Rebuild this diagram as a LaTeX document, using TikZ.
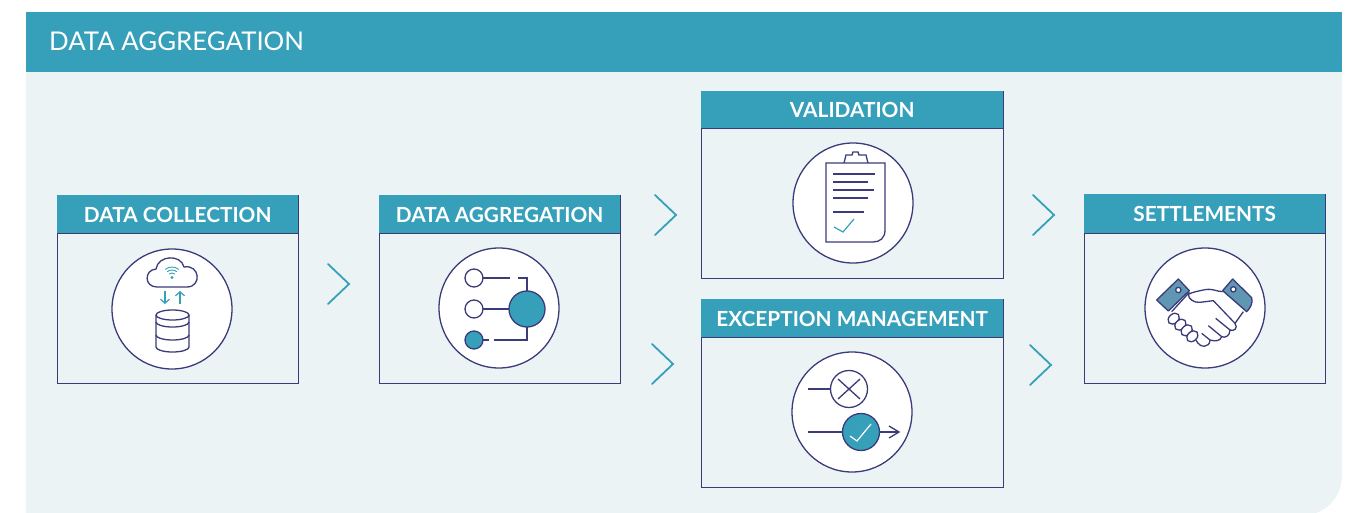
\documentclass[tikz,border=0pt]{standalone}
\usepackage{fontspec}
\setmainfont{Lato}
\usetikzlibrary{arrows.meta}
\definecolor{teal1}{HTML}{36A0BA}
\definecolor{pale1}{HTML}{EBF3F5}
\definecolor{navy1}{HTML}{3B3B7A}
\definecolor{cuff1}{HTML}{5F97B3}
\tikzset{
	boxbody/.style={draw=navy1, line width=1.3pt, anchor=north west, inner sep=0pt},
	boxhead/.style={fill=teal1, text=white, anchor=north west, inner sep=0pt, text height=16.5pt, text depth=0pt, font=\fontsize{20.8}{24}\selectfont\bfseries},
	iconring/.style={draw=navy1, fill=white, circle, line width=1.3pt, minimum size=120pt, inner sep=0pt},
	chevron/.style={draw=teal1, line width=1.8pt, line cap=round, line join=miter},
	navyline/.style={draw=navy1, line width=1.3pt},
	tealline/.style={draw=teal1, line width=1.2pt},
}
\begin{document}
\begin{tikzpicture}[x=1pt, y=-1pt]
	\useasboundingbox (0,0) rectangle (1351,513);
	\fill[pale1] (26,60) -- (1342,60) -- (1342,473) .. controls (1342,495) and (1330,508) .. (1316,513) -- (26,513) -- cycle;
	\fill[teal1] (26,12) rectangle (1342,72);
	\node[anchor=west, text=white, inner sep=0pt, font=\fontsize{25.8}{32}\selectfont] (title) at (49,41.5) {DATA AGGREGATION};

	\foreach \name/\x/\y/\w/\h/\hh/\txt in {A/57/195/241/188/38/DATA COLLECTION, B/379/195/241/188/38/DATA AGGREGATION, C/701/91/302/187/37/VALIDATION, D/701/299/302/188/38/EXCEPTION MANAGEMENT, E/1084/194/241/189/39/SETTLEMENTS} {
		\node[boxbody, minimum width=\w pt, minimum height=\h pt] (body\name) at (\x,\y) {};
		\node[boxhead, minimum width=\w pt, minimum height=\hh pt] (head\name) at (\x,\y) {\txt};
		\draw[navyline] (head\name.south west) -- (head\name.south east);
	}

	\foreach \name/\pos in {A/{(172,309)}, B/{(499,308)}, C/{(853,203)}, D/{(852,412)}, E/{(1205,308)}} \node[iconring] (ring\name) at \pos {};

	\foreach \pos in {(349,284), (676,215), (673,364), (1054,215), (1051,365)} \draw[chevron, shift={\pos}] (-21pt,20pt) -- (0pt,0pt) -- (-21pt,-20pt);

	% cloud and database
	\draw[navyline] (157,287) .. controls (144,287) and (144,270) .. (156,269) .. controls (158,255) and (181,254) .. (184,267) .. controls (200,264) and (202,287) .. (187,287) -- cycle;
	\fill[teal1] (172,277.5) circle (1.7pt);
	\foreach \rad in {4.5, 7.5, 10.5} \draw[tealline, line width=0.9pt] (172,277.5) ++(50:\rad pt) arc[start angle=50, end angle=130, radius=\rad pt];
	\draw[tealline, -{Straight Barb[length=4pt, width=9pt]}] (165,291) -- (165,304);
	\draw[tealline, -{Straight Barb[length=4pt, width=9pt]}] (180,304) -- (180,291);
	\draw[navyline] (156,315) arc[start angle=180, end angle=-180, x radius=16.5pt, y radius=5pt];
	\draw[navyline] (156,315) -- (156,347) arc[start angle=180, end angle=360, x radius=16.5pt, y radius=5pt] -- (189,315);
	\foreach \pos in {322, 335} \draw[navyline] (156,\pos) arc[start angle=180, end angle=360, x radius=16.5pt, y radius=5pt];

	% aggregation tree
	\draw[navyline] (483,278) -- (510,278) (518,278) -- (527,278) -- (527,291);
	\draw[navyline] (483,309) -- (509,309);
	\draw[navyline] (483,340) -- (489,340) (494,340) -- (527,340) -- (527,327);
	\foreach \pos in {278, 309} \draw[navyline, fill=white] (474,\pos) circle (9pt);
	\draw[navyline, fill=teal1] (474,340) circle (9pt);
	\draw[navyline, fill=teal1] (527,309) circle (18pt);

	% clipboard
	\draw[navyline] (826,163) -- (885,163) -- (885,230) .. controls (885,238) and (880,242) .. (873,242) -- (826,242) -- cycle;
	\draw[navyline] (844,163) -- (846,155) -- (852,155) -- (853,152) -- (858,152) -- (859,155) -- (866,155) -- (868,163);
	\foreach \y/\xend in {174/875, 182/868, 190/874, 198/868, 212/864} \draw[navyline] (833,\y) -- (\xend,\y);
	\draw[tealline] (834,227) -- (843,232) -- (854,219);

	% exception icon
	\draw[navyline] (808,389) -- (831,389);
	\draw[navyline] (849,389) circle (18.5pt);
	\draw[navyline] (838,379) -- (860,399) (838,399) -- (860,379);
	\draw[navyline] (808,432) -- (899,432);
	\draw[navyline] (889,426) -- (899,432) -- (889,438);
	\draw[navyline, fill=teal1] (861,432) circle (18.5pt);
	\draw[draw=white, line width=1.2pt] (850,436) -- (857,441) -- (871,424);

	% handshake
	\begin{scope}[shift={(1150,275)}, x=0.3333pt, y=-0.3333pt]
		\draw[navyline, line join=round] (118,52) -- (65,110);
		\draw[navyline, line join=round] (280,110) -- (255,145) .. controls (265,160) and (252,170) .. (240,165) .. controls (240,183) and (225,190) .. (215,185) .. controls (212,198) and (195,200) .. (180,195) .. controls (180,218) and (150,222) .. (138,195);
		\draw[navyline, line join=round] (218,50) .. controls (200,50) and (190,40) .. (165,44) .. controls (145,48) and (125,52) .. (115,58) .. controls (115,72) and (132,84) .. (150,82) -- (190,77) -- (255,145);
		\draw[navyline] (197,130) -- (240,165) (175,152) -- (215,185) (155,175) -- (180,195);
		\foreach \xc/\yc in {71/131, 91/149, 110/166, 127/184} \draw[navyline, fill=white, rotate around={42:(\xc,\yc)}] (\xc,\yc) ellipse (19 and 14);
		\draw[navyline, fill=cuff1, line join=round] (85,12) -- (118,47) -- (55,108) -- (20,75) -- cycle;
		\draw[navyline, fill=cuff1, line join=round] (248,12) -- (305,68) .. controls (310,85) and (300,100) .. (290,110) -- (218,47) -- cycle;
		\draw[navyline, fill=white] (85,45) circle (8);
		\draw[navyline, fill=white] (250,43) circle (8);
	\end{scope}
\end{tikzpicture}
\end{document}
